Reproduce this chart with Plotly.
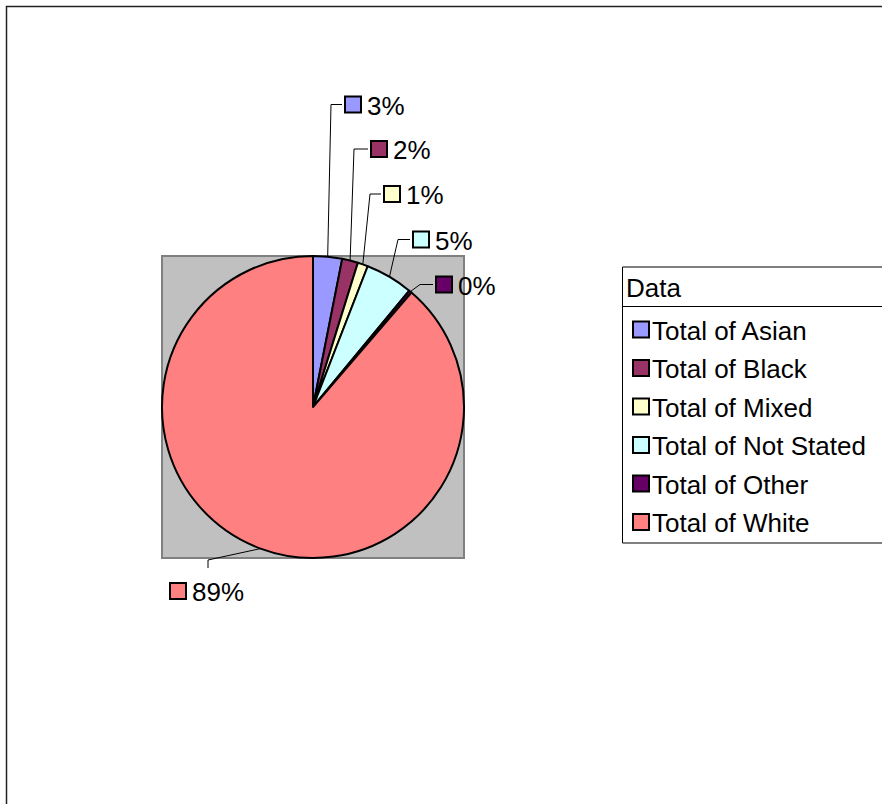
import math
import plotly.graph_objects as go

# ---------------- data ----------------
categories = ["Total of Asian", "Total of Black", "Total of Mixed",
              "Total of Not Stated", "Total of Other", "Total of White"]
values = [3.1, 1.7, 1.1, 5.1, 0.3, 88.7]
colors = ["#9999FF", "#993366", "#FFFFCC", "#CCFFFF", "#660066", "#FF8080"]
legend_title = "Data"

# ---------------- layout helpers (pixels) ----------------
W, H = 882, 804
FONT = "Liberation Sans, Arial, sans-serif"
FS = 26


def X(p):
    return p / W


def Y(p):
    return 1 - p / H


pie_box = (162, 256, 464, 558)           # x0, y0, x1, y1 in px
cx, cy, r = 313, 407, 151
SQ = 16
# data-label placement (square left x, text centre y)
label_pos = [(345, 104.5), (371, 149), (384, 194), (413, 239.5), (436, 284.5), (170, 591)]
leader_bend = [(331, 104.5), (354, 149), (370, 194), (398, 239.5), (420, 284.5), (208, 560)]
leader_end = [(342, 104.5), (368, 149), (381, 194), (410, 239.5), (433, 284.5), (208, 568)]

total = sum(values)

fig = go.Figure()
fig.add_trace(go.Pie(
    labels=categories,
    values=values,
    sort=False,
    direction="clockwise",
    rotation=0,
    marker=dict(colors=colors, line=dict(color="black", width=2)),
    textinfo="none",
    hoverinfo="label+percent",
    showlegend=False,
    domain=dict(x=[X(pie_box[0]), X(pie_box[2])], y=[Y(pie_box[3]), Y(pie_box[1])]),
))

shapes = []
annotations = []

# outer chart border
shapes.append(dict(type="rect", xref="paper", yref="paper",
                   x0=X(6.5), x1=X(900), y0=Y(6.5), y1=Y(830),
                   line=dict(color="#222222", width=1.5), fillcolor="rgba(0,0,0,0)"))

# gray plot area
shapes.append(dict(type="rect", xref="paper", yref="paper", layer="below",
                   x0=X(pie_box[0]), x1=X(pie_box[2]), y0=Y(pie_box[3]), y1=Y(pie_box[1]),
                   line=dict(color="#808080", width=2), fillcolor="#C0C0C0"))

# data labels with leader lines
cum = 0.0
for i, v in enumerate(values):
    mid = (cum + v / 2) / total * 2 * math.pi
    cum += v
    ax = cx + r * math.sin(mid)
    ay = cy - r * math.cos(mid)
    bx, by = leader_bend[i]
    ex, ey = leader_end[i]
    shapes.append(dict(type="path", xref="paper", yref="paper",
                       path=f"M {X(ax)} {Y(ay)} L {X(bx)} {Y(by)} L {X(ex)} {Y(ey)}",
                       line=dict(color="black", width=1)))
    sx, sy = label_pos[i]
    shapes.append(dict(type="rect", xref="paper", yref="paper",
                       x0=X(sx), x1=X(sx + SQ), y0=Y(sy + SQ / 2), y1=Y(sy - SQ / 2),
                       line=dict(color="black", width=2), fillcolor=colors[i]))
    annotations.append(dict(xref="paper", yref="paper", x=X(sx + SQ + 4), y=Y(sy + 1),
                            xanchor="left", yanchor="middle", showarrow=False,
                            text=f"{round(v / total * 100)}%",
                            font=dict(family=FONT, size=FS, color="black")))

# custom legend box
lg_x0, lg_y0, lg_y1, lg_sep = 622.5, 267, 543, 306.5
shapes.append(dict(type="rect", xref="paper", yref="paper",
                   x0=X(lg_x0), x1=X(900), y0=Y(lg_y1), y1=Y(lg_y0),
                   line=dict(color="black", width=1), fillcolor="white"))
shapes.append(dict(type="line", xref="paper", yref="paper",
                   x0=X(lg_x0), x1=X(900), y0=Y(lg_sep), y1=Y(lg_sep),
                   line=dict(color="black", width=1)))
annotations.append(dict(xref="paper", yref="paper", x=X(624), y=Y(287.5),
                        xanchor="left", yanchor="middle", showarrow=False,
                        text=legend_title, font=dict(family=FONT, size=FS, color="black")))
for i, name in enumerate(categories):
    yc = 329.5 + i * 38.5
    shapes.append(dict(type="rect", xref="paper", yref="paper",
                       x0=X(633), x1=X(633 + SQ), y0=Y(yc + SQ / 2), y1=Y(yc - SQ / 2),
                       line=dict(color="black", width=2), fillcolor=colors[i]))
    annotations.append(dict(xref="paper", yref="paper", x=X(650), y=Y(yc + 1),
                            xanchor="left", yanchor="middle", showarrow=False,
                            text=name, font=dict(family=FONT, size=FS, color="black")))

fig.update_layout(
    width=W, height=H,
    margin=dict(l=0, r=0, t=0, b=0, pad=0),
    paper_bgcolor="white", plot_bgcolor="white",
    showlegend=False,
    shapes=shapes,
    annotations=annotations,
    font=dict(family=FONT, size=FS, color="black"),
)

fig.write_html(
    "out.html",
    config={"displayModeBar": False},
    post_script="document.body.style.margin='0px';document.body.style.overflow='hidden';"
                "document.documentElement.style.overflow='hidden';",
)
